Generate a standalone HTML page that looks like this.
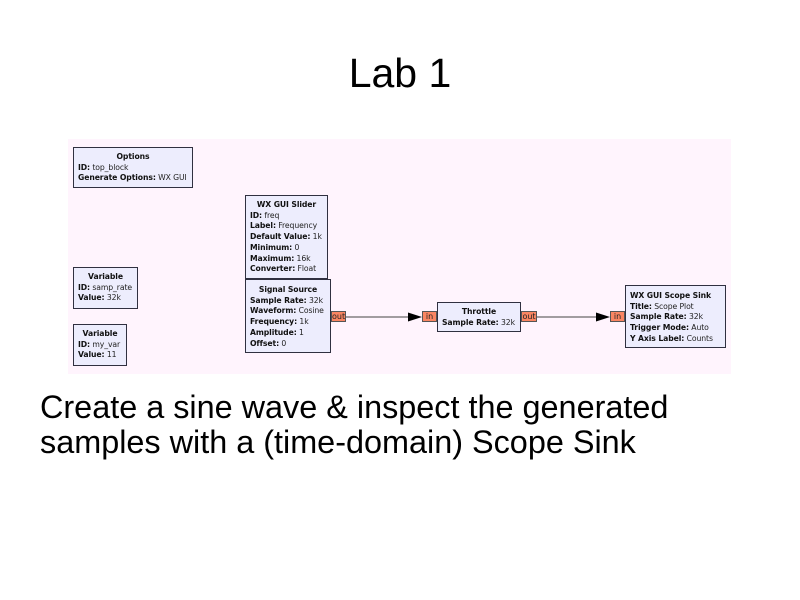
<!DOCTYPE html>
<html><head><meta charset="utf-8"><style>
*{margin:0;padding:0;box-sizing:border-box}
body{width:800px;height:600px;background:#fff;position:relative;overflow:hidden;font-family:"Liberation Sans",Arial,sans-serif}
.t{position:absolute;color:#000}
#canvas{position:absolute;left:68px;top:139px;width:663px;height:235px;background:#fff4fd}
.b{position:absolute;background:#ededfd;border:1px solid #303040;font-family:"DejaVu Sans",sans-serif;font-size:7.7px;line-height:10.7px;padding:4px 0 0 4px;color:#222;white-space:nowrap;letter-spacing:-0.1px}
.b .h{font-weight:bold;text-align:center;padding-right:4px;color:#111}
.b b{color:#111}
.p{position:absolute;background:#fa8562;border:1px solid #555;font-family:"DejaVu Sans",sans-serif;font-size:8px;line-height:9px;color:#222;text-align:center;height:11px}
</style></head><body>
<div class="t" style="left:0;width:800px;top:49px;text-align:center;font-size:41px;line-height:48px">Lab 1</div>
<div class="t" style="left:40px;top:390px;font-size:32.4px;line-height:34.5px;white-space:nowrap">Create a sine wave &amp; inspect the generated<br>samples with a (time-domain) Scope Sink</div>

<div id="canvas"></div>

<div class="b" style="left:73px;top:147px;width:120px;height:41px"><div class="h">Options</div><b>ID:</b> top_block<br><b>Generate Options:</b> WX GUI</div>

<div class="b" style="left:73px;top:267px;width:65px;height:42px"><div class="h">Variable</div><b>ID:</b> samp_rate<br><b>Value:</b> 32k</div>

<div class="b" style="left:73px;top:324px;width:54px;height:42px"><div class="h">Variable</div><b>ID:</b> my_var<br><b>Value:</b> 11</div>

<div class="b" style="left:245px;top:195px;width:83px;height:84px"><div class="h">WX GUI Slider</div><b>ID:</b> freq<br><b>Label:</b> Frequency<br><b>Default Value:</b> 1k<br><b>Minimum:</b> 0<br><b>Maximum:</b> 16k<br><b>Converter:</b> Float</div>

<div class="b" style="left:245px;top:279px;width:86px;height:74px;padding-top:5px"><div class="h">Signal Source</div><b>Sample Rate:</b> 32k<br><b>Waveform:</b> Cosine<br><b>Frequency:</b> 1k<br><b>Amplitude:</b> 1<br><b>Offset:</b> 0</div>

<div class="b" style="left:437px;top:302px;width:84px;height:30px"><div class="h">Throttle</div><b>Sample Rate:</b> 32k</div>

<div class="b" style="left:625px;top:285px;width:101px;height:63px;padding-top:5px"><div class="h" style="text-align:left">WX GUI Scope Sink</div><b>Title:</b> Scope Plot<br><b>Sample Rate:</b> 32k<br><b>Trigger Mode:</b> Auto<br><b>Y Axis Label:</b> Counts</div>

<div class="p" style="left:331px;top:311px;width:15px">out</div>
<div class="p" style="left:422px;top:311px;width:15px">in</div>
<div class="p" style="left:521px;top:311px;width:16px">out</div>
<div class="p" style="left:610px;top:311px;width:15px">in</div>

<svg style="position:absolute;left:0;top:0" width="800" height="600">
<line x1="346" y1="317" x2="410" y2="317" stroke="#444" stroke-width="1"/>
<polygon points="408,312.5 422,317 408,321.5" fill="#000"/>
<line x1="537" y1="317" x2="598" y2="317" stroke="#444" stroke-width="1"/>
<polygon points="596,312.5 610,317 596,321.5" fill="#000"/>
</svg>
</body></html>
